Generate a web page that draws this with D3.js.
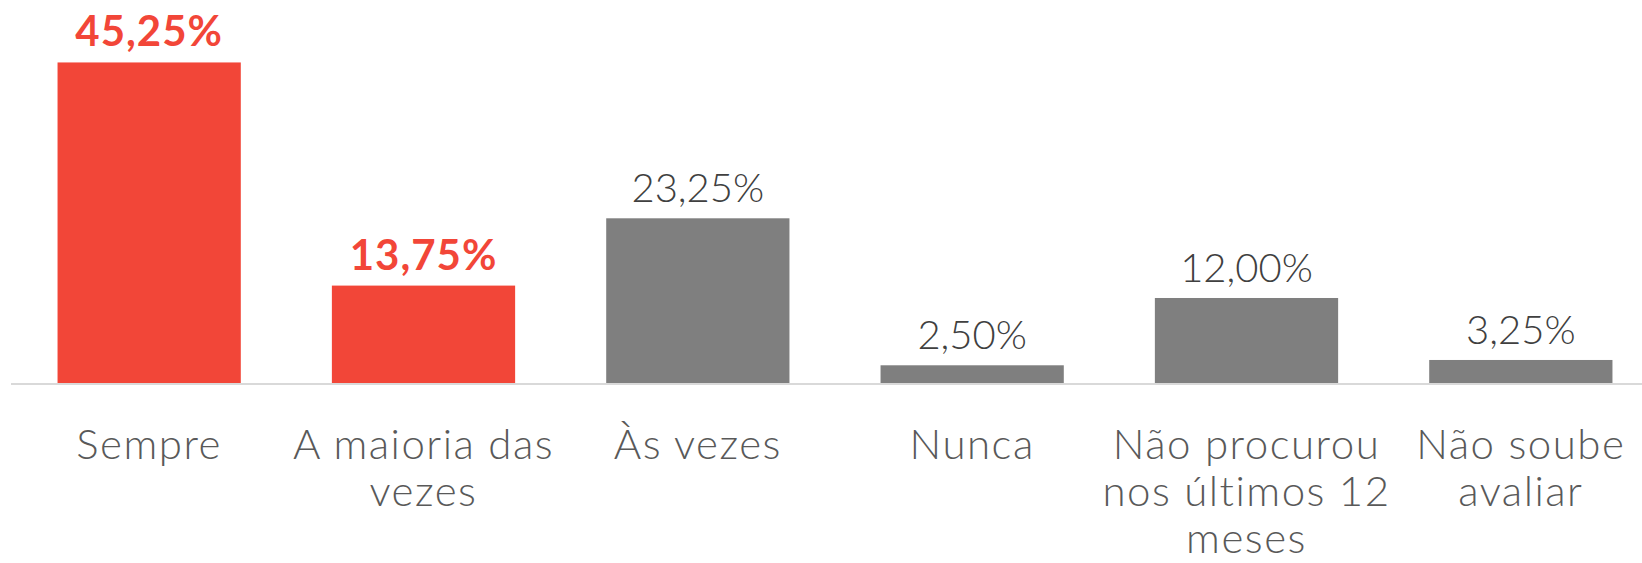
<html>
<head>
<meta charset="utf-8">
<script src="https://cdn.jsdelivr.net/npm/d3@7"></script>
<style>
  body { margin: 0; background: #fff; }
  text { font-family: Lato, 'Open Sans', sans-serif; }
</style>
</head>
<body>
<div id="chart"></div>
<script>
  // dados
  const categories = ["Sempre", "A maioria das\nvezes", "Às vezes", "Nunca", "Não procurou\nnos últimos 12\nmeses", "Não soube\navaliar"]
  const values = [45.25, 13.75, 23.25, 2.50, 12.00, 3.25]
  const highlight = [true, true, false, false, false, false]

  const width = 1642
  const height = 563
  const baseY = 383

  const svg = d3.select("#chart").append("svg")
    .attr("width", width)
    .attr("height", height)

  const x = d3.scaleBand()
    .domain(categories)
    .range([12, 1658])
    .paddingInner(0.332)
    .paddingOuter(0.166)

  const y = d3.scaleLinear()
    .domain([0, 50])
    .range([baseY, baseY - 354.2])

  const fmt = v => d3.format(".2f")(v).replace(".", ",") + "%"

  //barras
  svg.selectAll("rect.bar").data(values).join("rect")
    .attr("class", "bar")
    .attr("x", (d, i) => x(categories[i]))
    .attr("y", d => y(d))
    .attr("width", x.bandwidth())
    .attr("height", d => y(0) - y(d))
    .attr("fill", (d, i) => highlight[i] ? "#f24638" : "#7f7f7f")

  //eixo
  svg.append("line")
    .attr("x1", 11).attr("x2", width)
    .attr("y1", baseY + 1).attr("y2", baseY + 1)
    .attr("stroke", "#d9d9d9")
    .attr("stroke-width", 2)

  //rótulos de valor
  svg.selectAll("text.val").data(values).join("text")
    .attr("class", "val")
    .attr("x", (d, i) => x(categories[i]) + x.bandwidth() / 2)
    .attr("y", d => y(d) - 16)
    .attr("text-anchor", "middle")
    .attr("font-size", (d, i) => highlight[i] ? 42 : 40)
    .attr("letter-spacing", (d, i) => highlight[i] ? 1 : 0)
    .attr("font-weight", (d, i) => highlight[i] ? 700 : 300)
    .attr("fill", (d, i) => highlight[i] ? "#f24638" : "#404040")
    .text(d => fmt(d))

  //rótulos de categoria
  const cat = svg.selectAll("text.cat").data(categories).join("text")
    .attr("class", "cat")
    .attr("x", d => x(d) + x.bandwidth() / 2)
    .attr("y", 459)
    .attr("text-anchor", "middle")
    .attr("font-size", 42)
    .attr("letter-spacing", 1.5)
    .attr("font-weight", 300)
    .attr("fill", "#595959")
  cat.selectAll("tspan").data(d => d.split("\n")).join("tspan")
    .attr("x", function () { return this.parentNode.getAttribute("x") })
    .attr("dy", (d, i) => i == 0 ? 0 : 47)
    .text(d => d)
</script>
</body>
</html>
